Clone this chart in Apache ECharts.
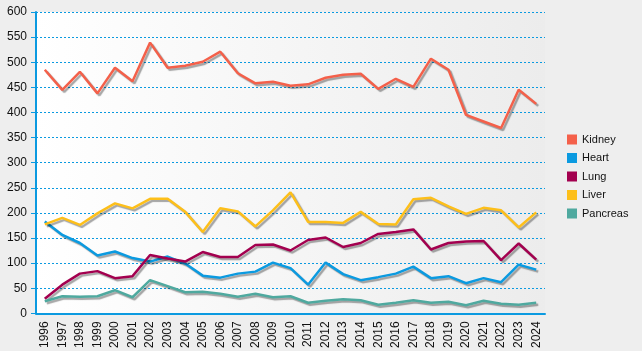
<!DOCTYPE html>
<html><head><meta charset="utf-8">
<script src="https://cdn.jsdelivr.net/npm/echarts@6/dist/echarts.min.js"></script>
<style>html,body{margin:0;padding:0;background:#eeeeee}#c{width:642px;height:351px}</style>
</head><body><div id="c"></div>
<script>
const years = ['1996','1997','1998','1999','2000','2001','2002','2003','2004','2005','2006','2007','2008','2009','2010','2011','2012','2013','2014','2015','2016','2017','2018','2019','2020','2021','2022','2023','2024'];
const kidney = [485,445,481,438,489,462,539,489,493,501,521,478,458,461,453,456,469,475,477,447,467,451,507,485,395,382,369,445,417];
const heart = [183,156,140,115,123,110,103,113,99,75,71,79,83,101,90,57,101,78,66,72,79,93,70,74,60,70,62,97,87];
const lung = [29,57,79,84,70,74,116,109,103,122,112,112,136,137,125,146,151,132,140,158,162,167,127,140,143,144,106,139,107];
const liver = [177,190,176,199,219,209,228,228,202,162,209,203,173,205,241,182,182,180,202,178,177,227,230,213,198,210,205,171,201];
const pancreas = [24,34,33,34,46,32,66,54,42,43,39,33,39,32,34,21,25,28,26,17,21,26,21,23,16,25,19,17,21];
const seriesNames = ['Kidney','Heart','Lung','Liver','Pancreas'];
const colors = ['#f4604a','#0b9ae0','#a3004f','#fdbf1a','#4fa99f'];
const yTicks = {min:0, max:600, interval:50};

const chart = echarts.init(document.getElementById('c'));
const dataArr = [kidney, heart, lung, liver, pancreas];
chart.setOption({
  backgroundColor:'#eeeeee',
  animation:false,
  color: colors,
  textStyle:{fontFamily:'Liberation Sans, Arial, sans-serif'},
  grid:{left:36, right:97, top:12, bottom:37, show:true, borderWidth:0,
    backgroundColor:{type:'linear',x:0,y:0,x2:1,y2:0,colorStops:[{offset:0,color:'#ffffff'},{offset:1,color:'#ececec'}]}},
  legend:{orient:'vertical', left:562, top:129, itemWidth:10, itemHeight:10, itemGap:7.5,
    icon:'rect', textStyle:{fontSize:11, color:'#111'},
    data: seriesNames},
  xAxis:{type:'category', data:years, boundaryGap:true,
    axisLine:{lineStyle:{color:'#0b9ae0', width:2}},
    axisTick:{alignWithLabel:true, length:5, lineStyle:{color:'#0b9ae0', width:1}},
    axisLabel:{rotate:90, fontSize:12, color:'#111', margin:8}},
  yAxis:{type:'value', min:yTicks.min, max:yTicks.max, interval:yTicks.interval,
    axisLine:{show:true, lineStyle:{color:'#0b9ae0', width:2}},
    axisTick:{show:true, length:5, lineStyle:{color:'#0b9ae0'}},
    axisLabel:{fontSize:12, color:'#111', margin:9},
    splitLine:{lineStyle:{color:'#0b9ae0', type:[2,2], width:1}}},
  series: seriesNames.map((n,i)=>({
    name:n, type:'line', data:dataArr[i], symbol:'none', smooth:false,
    lineStyle:{width:2.5, color:colors[i], shadowColor:'rgba(0,0,0,0.35)', shadowOffsetX:2, shadowOffsetY:2, shadowBlur:1},
    itemStyle:{color:colors[i]}
  }))
});
</script></body></html>
